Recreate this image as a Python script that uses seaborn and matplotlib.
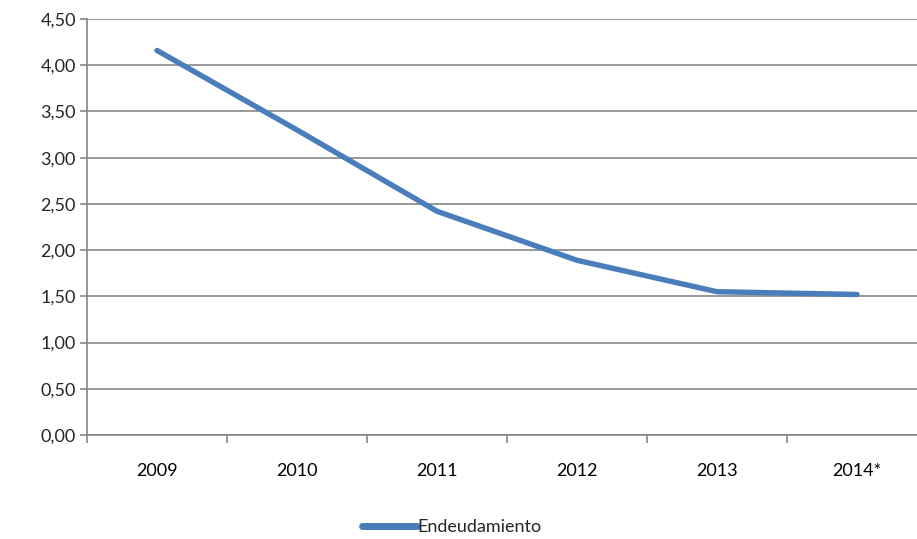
import matplotlib
matplotlib.use("Agg")
from matplotlib import pyplot as plt
from matplotlib.ticker import FuncFormatter, FixedLocator
import seaborn as sns
import pandas as pd
import numpy as np

years = ['2009', '2010', '2011', '2012', '2013', '2014*']
endeudamiento = [4.16, 3.30, 2.42, 1.89, 1.55, 1.52]

sns.set_style("white")
plt.rcParams['font.family'] = ['Lato', 'DejaVu Sans']

df = pd.DataFrame({'pos': np.arange(len(years)), 'valor': endeudamiento})

fig = plt.figure(figsize=(9.17, 5.39), dpi=100)
ax = fig.add_axes([87/917, 104/539, 840/917, 416/539])

grid_col = '#868686'
line_col = '#4a7ebb'

sns.lineplot(data=df, x='pos', y='valor', ax=ax, color=line_col, linewidth=3.9,
             solid_capstyle='round', solid_joinstyle='round', label='Endeudamiento')

ax.set_xlim(-0.5, len(years) - 0.5)
ax.set_ylim(0, 4.5)
ax.set_yticks(np.arange(0, 4.51, 0.5))
ax.yaxis.set_major_formatter(FuncFormatter(lambda v, p: f"{v:.2f}".replace('.', ',')))
ax.yaxis.grid(True, color=grid_col, linewidth=1.2)
ax.set_axisbelow(True)

# marcas en los limites de categoria, etiquetas en el centro
ax.xaxis.set_major_locator(FixedLocator(np.arange(-0.5, len(years), 1.0)))
ax.xaxis.set_major_formatter(FuncFormatter(lambda v, p: ''))
ax.xaxis.set_minor_locator(FixedLocator(np.arange(len(years))))
ax.set_xticklabels(years, minor=True)
ax.tick_params(axis='x', which='major', length=6, width=1.2, color=grid_col, direction='out', bottom=True)
ax.tick_params(axis='x', which='minor', length=0, pad=20, labelsize=13, colors='black')
ax.tick_params(axis='y', length=5, width=1.2, color=grid_col, direction='out', left=True,
               labelsize=13, pad=3)

for s in ['top', 'right']:
    ax.spines[s].set_visible(False)
for s in ['left', 'bottom']:
    ax.spines[s].set_color(grid_col)
    ax.spines[s].set_linewidth(1.2)

ax.set_xlabel('')
ax.set_ylabel('')

leg = ax.legend(loc='center', bbox_to_anchor=(452/917, 12/539), bbox_transform=fig.transFigure,
                frameon=False, fontsize=13, handlelength=3.0, handletextpad=0.05)
for h in leg.get_lines():
    h.set_linewidth(5)
    h.set_solid_capstyle('round')

fig.savefig('out.png', dpi=100)
